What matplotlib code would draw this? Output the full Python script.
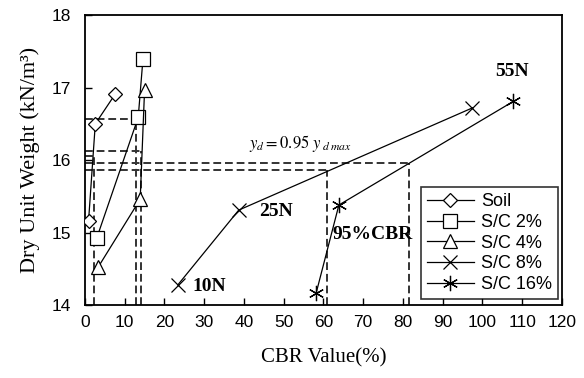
import matplotlib
matplotlib.use('Agg')
import matplotlib.pyplot as plt

# CBR (%) and dry unit weight (kN/m3) at 10N, 25N, 55N blows
soil_cbr = [0.9, 2.6, 7.6]
soil_gd = [15.16, 16.50, 16.91]
sc2_cbr = [3.0, 13.4, 14.6]
sc2_gd = [14.93, 16.59, 17.40]
sc4_cbr = [3.4, 13.9, 15.0]
sc4_gd = [14.53, 15.46, 16.97]
sc8_cbr = [23.4, 38.7, 97.5]
sc8_gd = [14.28, 15.31, 16.72]
sc16_cbr = [58.2, 63.9, 107.8]
sc16_gd = [14.17, 15.38, 16.81]

# 95% of max dry unit weight and the matching CBR
ref_gd = [16.05, 16.57, 16.13, 15.87, 15.96]
ref_cbr = [2.2, 12.9, 14.0, 60.8, 81.5]

serif = 'Liberation Serif'
sans = 'Liberation Sans'

fig = plt.figure(figsize=(5.84, 3.78), dpi=100)
ax = fig.add_axes([0.1455, 0.193, 0.8165, 0.767])

# dashed guide lines
for g, c in zip(ref_gd, ref_cbr):
    ax.plot([0, c], [g, g], color='#333333', ls=(0, (4, 2)), lw=1.4, zorder=1)
    ax.plot([c, c], [14, g], color='#333333', ls=(0, (4, 2)), lw=1.4, zorder=1)

mk = dict(color='black', lw=0.9, mfc='white', mec='black', mew=0.9, zorder=3)
ax.plot(soil_cbr, soil_gd, marker='D', ms=7, label='Soil', **mk)
ax.plot(sc2_cbr, sc2_gd, marker='s', ms=10, label='S/C 2%', **mk)
ax.plot(sc4_cbr, sc4_gd, marker='^', ms=10, label='S/C 4%', **mk)
ax.plot(sc8_cbr, sc8_gd, marker='x', ms=10, label='S/C 8%', **mk)
ax.plot(sc16_cbr, sc16_gd, marker=(6, 2, 0), ms=11, label='S/C 16%', **mk)

ax.set_xlim(0, 120)
ax.set_ylim(14, 18)
ax.set_xticks(range(0, 121, 10))
ax.set_yticks([14, 15, 16, 17, 18])
ax.tick_params(direction='in', length=5, width=1, labelsize=12.5, pad=7)
ax.tick_params(axis='y', pad=10)
for lab in ax.get_xticklabels() + ax.get_yticklabels():
    lab.set_family(sans)
for s in ax.spines.values():
    s.set_linewidth(1.3)

ax.set_xlabel('CBR Value(%)', family=serif, fontsize=15, labelpad=13)
ax.set_ylabel('Dry Unit Weight (kN/m³)', family=serif, fontsize=16, labelpad=8)

bold = dict(family=serif, fontsize=14, fontweight='bold', va='center')
ax.text(107.4, 17.22, '55N', ha='center', **bold)
ax.text(43.8, 15.29, '25N', ha='left', **bold)
ax.text(27.0, 14.26, '10N', ha='left', **bold)
ax.text(62.4, 14.97, '95%CBR', ha='left', **bold)
ax.text(41.2, 16.23, r'$y_d = 0.95\ y_{\ d\,max}$', family=serif, fontsize=12,
        ha='left', va='center', math_fontfamily='stix')

leg = ax.legend(loc='lower right', bbox_to_anchor=(0.993, 0.02), borderaxespad=0,
                prop={'family': sans, 'size': 13},
                frameon=True, fancybox=False, edgecolor='black', handlelength=2.6,
                labelspacing=0.2, borderpad=0.35, handletextpad=0.4)
leg.get_frame().set_linewidth(1.2)

fig.savefig('out.png', dpi=100)
